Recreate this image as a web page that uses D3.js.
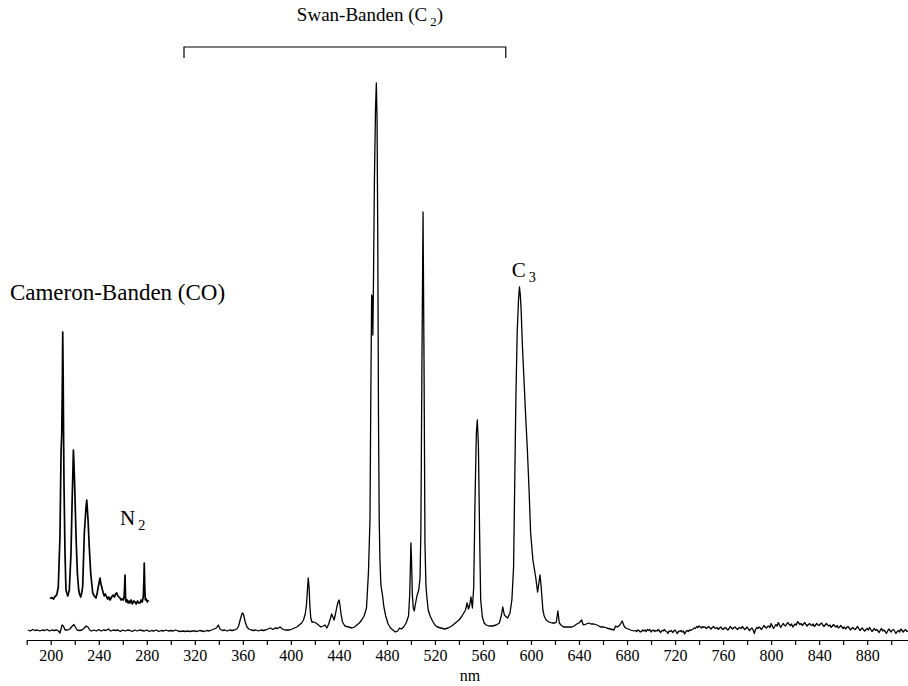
<!DOCTYPE html>
<html>
<head>
<meta charset="utf-8">
<script src="https://cdn.jsdelivr.net/npm/d3@7"></script>
<style>
  body { margin: 0; background: #fff; }
  svg { display: block; }
</style>
</head>
<body>
<svg id="chart"></svg>
<script>
// spectrum as [wavelength nm, intensity a.u.]
const uvSegment = [
  [181, 10], [183, 9], [185, 10.5], [187, 9.5], [189, 10], [191, 9], [193, 10], [195, 9.5],
  [197, 10.5], [199, 9], [201, 10], [203, 9.5], [205, 10], [206.5, 9], [207.7, 7], [208.6, 11],
  [209.5, 15], [210.5, 14], [212, 10], [214, 10], [216, 11], [218, 14], [219.3, 15.5], [220.5, 13],
  [222, 10], [224, 9.5], [226, 10], [228, 12], [229.5, 14], [231, 13], [232.5, 10], [234, 9],
  [236, 10], [238, 9], [240, 10.5], [242, 9], [244, 10], [246, 9.5], [248, 11], [250, 9],
  [252, 10], [254, 9.5], [256, 10], [258, 8.5], [260, 10], [262, 9], [264, 10], [266, 9.5],
  [268, 8.5], [270, 10], [272, 9], [274, 10], [276, 9.5], [278, 9], [280, 10], [282, 8.5],
  [284, 9.5], [286, 9], [288, 10], [290, 8.5], [292, 9.5], [294, 9], [296, 10], [298, 9],
  [300, 9.5], [302, 9], [304, 10], [306, 9], [308, 8.5], [310, 9], [312, 8.5], [314, 9],
  [316, 8.5], [318, 9], [320, 9], [322, 8.5], [324, 9.5], [326, 9], [328, 8.5], [330, 9.5],
  [332, 9], [334, 10], [336, 11], [338, 12], [339.6, 15], [341, 11], [343, 9.5], [345, 10],
  [347, 9], [349, 10], [351, 9.5], [353, 10], [355, 11], [356.5, 14], [358, 21], [359.5, 27],
  [360.5, 26], [362, 18], [363.5, 13], [365, 11], [367, 10], [369, 9.5], [371, 10], [373, 9],
  [375, 10], [377, 9.5], [379, 10], [381, 11], [383, 12], [385, 10.5], [387, 12], [389, 11.5],
  [391, 13], [393, 11], [395, 10], [397, 10], [399, 10], [401, 11], [403, 12], [405, 13],
  [407, 15], [409, 17], [410.5, 20], [412, 26], [413, 35], [413.8, 50], [414.5, 62], [415.2, 52],
  [415.9, 33], [416.6, 22], [417.5, 18], [419, 18], [421, 17], [423, 15], [425, 13], [427, 14],
  [428.5, 15], [430, 12], [431.5, 16], [432.8, 21], [434, 26], [435, 23], [436, 20], [437, 25],
  [438.3, 33], [439.3, 38], [440.2, 40], [441, 34], [441.8, 26], [443, 18], [445, 14], [448, 13],
  [451, 12], [453, 13], [455, 15], [457, 17], [459, 20], [461, 24]
]

const swanSegment = [
  [463, 32], [464.6, 67], [465.9, 120], [466.6, 245], [467.3, 345], [467.9, 340], [468.3, 305],
  [468.7, 345], [469.6, 460], [470.5, 530], [471.2, 557], [471.8, 520], [472.4, 400], [473, 220],
  [473.6, 120], [474.2, 80], [475, 55], [476.3, 45], [477.5, 33], [479, 24], [481, 16], [483, 12],
  [485, 10], [487, 8], [489, 9], [490.5, 12], [492, 11], [494, 13], [496, 17], [498, 24],
  [499, 45], [499.5, 70], [500, 97], [500.5, 80], [501.2, 45], [502, 32], [502.8, 29], [503.6, 35],
  [505, 44], [506.5, 50], [507.6, 62], [508.3, 110], [509.2, 282], [510.1, 428], [510.9, 282],
  [511.7, 96], [512.5, 55], [513.2, 44], [514.4, 30], [516, 24], [518, 19], [520, 15], [522, 13],
  [525, 12], [528, 11], [531, 12], [534, 14], [536, 16], [538, 18], [540, 20], [542, 23],
  [544, 27], [545.5, 30], [546.8, 37], [548, 31], [549, 35], [550, 43], [551.2, 32], [552.3, 53],
  [553.4, 140], [554.5, 207], [555.3, 220], [556.2, 195], [557.2, 107], [558.1, 40], [559.5, 23],
  [561, 17], [562.7, 15], [565, 14], [568, 14], [571, 15], [573.7, 17], [575.4, 25], [576.5, 33],
  [577.8, 25], [579.5, 23], [580.6, 22], [582.5, 27], [584.1, 40], [585.5, 73], [586.5, 160],
  [587.4, 240], [588.5, 307], [589.6, 340], [590.4, 353], [591.1, 345], [591.8, 330], [592.9, 293],
  [594.3, 257], [595.6, 223], [597, 190], [598.4, 150], [599.7, 107], [601.6, 80], [603.9, 63],
  [605.5, 48], [606.6, 57], [607.5, 65], [608.5, 53], [609.9, 30], [611, 24], [612.6, 20],
  [615, 18], [617.5, 17], [620, 17], [621.1, 18], [622.4, 29], [623.6, 17], [625, 15], [627.1, 13],
  [630, 13], [634, 13], [636, 14], [638.1, 16], [640, 17], [642.2, 20], [643.2, 16], [644.1, 15],
  [646, 16], [648, 17], [650, 16], [652.4, 16], [655, 15], [658, 13], [660.8, 13], [663, 12],
  [666, 11], [669.1, 10], [670.5, 14], [672, 13], [674, 15], [676, 19], [677.5, 14], [678.8, 12],
  [681, 11], [683, 10], [685.7, 9]
]

const redSegment = [
  [687, 9.5], [688, 8.5], [689, 10], [690, 9.5], [691, 8], [692, 8.5], [693, 10], [694, 9],
  [695, 10], [696, 8.5], [697, 10.5], [698, 9.5], [699, 10.5], [700, 8], [701, 9.5], [702, 10],
  [703, 8.5], [704, 9.5], [705, 9], [706, 10.5], [707, 9], [708, 7.5], [709, 9.5], [710, 9],
  [711, 10.5], [712, 9], [713, 8.5], [714, 6.5], [715, 9], [716, 8.5], [717, 9.5], [718, 7.5],
  [719, 9], [720, 10], [721, 8], [722, 6.5], [723, 9], [724, 8.5], [725, 9.5], [726, 8],
  [727, 9], [728, 6], [729, 8.5], [730, 9.5], [731, 8.5], [732, 10], [733, 9.5], [734, 10.5],
  [735, 11], [736, 12], [737, 11.5], [738, 13.5], [739, 12.5], [740, 14], [741, 13], [742, 12],
  [743, 13.5], [744, 12.5], [745, 13], [746, 11.5], [747, 12.5], [748, 13.5], [749, 12], [750, 11],
  [751, 12.5], [752, 13.5], [753, 12], [754, 11.5], [755, 12.5], [756, 10.5], [757, 12], [758, 13],
  [759, 11.5], [760, 10.5], [761, 12], [762, 12.5], [763, 11], [764, 10], [765, 11.5], [766, 13.5],
  [767, 12], [768, 11], [769, 12.5], [770, 13], [771, 11.5], [772, 10.5], [773, 12], [774, 12.5],
  [775, 11.5], [776, 13.5], [777, 12], [778, 10.5], [779, 11.5], [780, 13], [781, 11], [782, 9.5],
  [783, 11], [784, 12], [785, 10], [786, 6.5], [787, 10.5], [788, 12.5], [789, 11.5], [790, 13],
  [791, 12], [792, 10.5], [793, 12.5], [794, 14.5], [795, 13], [796, 12], [797, 13.5], [798, 14],
  [799, 12.5], [800, 16.5], [801, 14], [802, 11.5], [803, 13.5], [804, 15.5], [805, 14], [806, 17.5],
  [807, 15], [808, 12.5], [809, 14.5], [810, 16.5], [811, 15], [812, 14], [813, 16], [814, 17.5],
  [815, 15.5], [816, 14.5], [817, 16], [818, 13], [819, 14.5], [820, 16], [821, 15], [822, 18.5],
  [823, 17], [824, 15.5], [825, 16.5], [826, 14.5], [827, 16], [828, 17.5], [829, 15.5], [830, 14],
  [831, 15.5], [832, 16.5], [833, 15], [834, 14.5], [835, 16], [836, 13.5], [837, 15], [838, 16.5],
  [839, 15], [840, 14.5], [841, 16], [842, 17], [843, 15], [844, 13.5], [845, 15], [846, 16.5],
  [847, 15], [848, 14], [849, 15], [850, 12.5], [851, 14], [852, 15.5], [853, 14], [854, 13],
  [855, 14.5], [856, 12], [857, 13], [858, 14.5], [859, 13], [860, 11.5], [861, 13], [862, 11],
  [863, 12.5], [864, 13.5], [865, 12], [866, 10], [867, 11.5], [868, 12.5], [869, 11], [870, 10.5],
  [871, 12], [872, 13.5], [873, 11.5], [874, 9.5], [875, 11], [876, 12], [877, 10], [878, 9],
  [879, 10.5], [880, 11.5], [881, 10], [882, 12.5], [883, 10.5], [884, 8.5], [885, 10], [886, 11.5],
  [887, 9.5], [888, 10.5], [889, 9], [890, 7.5], [891, 10], [892, 11.5], [893, 9], [894, 10],
  [895, 8.5], [896, 6.5], [897, 9], [898, 11], [899, 9.5], [900, 8], [901, 10], [902, 10.5],
  [903, 8.5], [904, 6.5], [905, 8.5], [906, 9.5], [907, 8], [908, 11], [909, 9.5], [910, 8],
  [911, 9.5], [912, 10.5], [913, 8.5], [914, 9]
]

// magnified CO / N2 trace, drawn raised above the main spectrum
const cameronSegment = [
  [199.4, 41.5], [200.9, 42.5], [202.3, 41], [203.6, 43.5], [205, 45], [206.3, 53], [207.7, 103],
  [208.6, 187], [209.2, 207], [209.7, 260], [210, 308], [210.4, 260], [210.7, 207], [211.1, 153],
  [211.9, 87], [212.7, 50], [213.4, 47], [214.2, 44], [215.5, 50], [216.9, 87], [217.8, 137],
  [218.5, 170], [218.9, 190], [219.4, 175], [220, 153], [221.1, 103], [222.2, 67], [223.3, 50],
  [224.2, 45], [225, 43], [225.8, 47], [226.6, 53], [228, 107], [229.4, 133], [230, 140],
  [231.1, 120], [232.1, 93], [233.3, 67], [235, 47], [236.3, 44], [237.7, 42], [238.7, 47],
  [239.6, 53], [240.4, 58], [241.1, 62], [241.8, 56], [242.5, 53], [243.1, 50], [243.8, 47],
  [244.6, 44], [245.4, 46], [246.6, 43], [247.5, 41], [248.4, 43], [249.4, 40], [250.3, 42],
  [251.2, 44], [252.1, 45], [253.1, 43], [254, 46], [255, 47], [255.9, 44], [256.8, 43],
  [257.7, 42], [258.6, 40], [259.5, 41], [260.5, 40], [261.2, 44], [261.9, 65], [262.3, 44],
  [262.7, 38], [263.6, 40], [264.5, 37], [265.3, 39], [266, 37], [267, 40], [268, 36], [269.1, 39],
  [270.2, 38], [271.2, 36], [272.3, 39], [273.3, 37], [274.4, 37], [275.3, 40], [276.2, 38],
  [277.1, 43], [277.6, 60], [277.9, 77], [278.3, 55], [278.8, 40], [279.6, 41], [280.5, 38],
  [281.3, 40]
]

const tickValues = d3.range(180, 901, 20)
const swanRange = [311, 579]

const width = 908
const height = 686
const serif = "'Liberation Serif', 'Times New Roman', Times, 'DejaVu Serif', serif"

const svg = d3.select('#chart')
  .attr('width', width)
  .attr('height', height)
  .style('font-family', serif)

const x = d3.scaleLinear()
  .domain([180, 914])
  .range([26.7, 908])

const y = d3.scaleLinear()
  .domain([0, 560])
  .range([640, 80])

const line = d3.line()
  .x(d => x(d[0]))
  .y(d => y(d[1]))

const mainSpectrum = [...uvSegment, ...swanSegment, ...redSegment]

svg.append('path')
  .datum(mainSpectrum)
  .attr('d', line)
  .attr('fill', 'none')
  .attr('stroke', '#000')
  .attr('stroke-width', 1.3)
  .attr('stroke-linejoin', 'round')

svg.append('path')
  .datum(cameronSegment)
  .attr('d', line)
  .attr('fill', 'none')
  .attr('stroke', '#000')
  .attr('stroke-width', 1.7)
  .attr('stroke-linejoin', 'round')

// axis
const axis = svg.append('g')
  .attr('transform', `translate(0,${y(0)})`)
  .call(d3.axisBottom(x)
    .tickValues(tickValues)
    .tickFormat(d => d % 40 === 0 ? d : '')
    .tickSize(5)
    .tickSizeOuter(0)
    .tickPadding(5))
  .attr('font-family', null)
  .style('font-family', serif)

axis.select('.domain').attr('stroke-width', 1.2)
axis.selectAll('.tick line').attr('stroke-width', 1.2)
axis.selectAll('.tick text')
  .style('font-family', serif)
  .attr('font-size', 16)
  .attr('fill', '#000')

svg.append('text')
  .attr('x', 470)
  .attr('y', 681)
  .attr('text-anchor', 'middle')
  .attr('font-size', 16)
  .style('font-family', serif)
  .text('nm')

// Swan band bracket
const bracketTop = y(593)
const bracketBottom = y(582)
svg.append('path')
  .attr('d', `M${x(swanRange[0])},${bracketBottom}V${bracketTop}H${x(swanRange[1])}V${bracketBottom}`)
  .attr('fill', 'none')
  .attr('stroke', '#000')
  .attr('stroke-width', 1.2)

// labels with subscripts
const addLabel = (nm, val, main, sub, after, size) => {
  const t = svg.append('text')
    .attr('x', x(nm))
    .attr('y', y(val))
    .attr('font-size', size)
    .style('font-family', serif)
  t.append('tspan').text(main)
  if (sub) {
    t.append('tspan')
      .attr('dx', 3)
      .attr('dy', 5)
      .attr('font-size', size * 0.68)
      .text(sub)
    if (after) t.append('tspan').attr('dy', -5).text(after)
  }
}

addLabel(405, 619, 'Swan-Banden (C', '2', ')', 19)
addLabel(166, 340, 'Cameron-Banden (CO)', null, null, 23)
addLabel(583.9, 363, 'C', '3', null, 21)
addLabel(257.7, 115, 'N', '2', null, 21)
</script>
</body>
</html>
